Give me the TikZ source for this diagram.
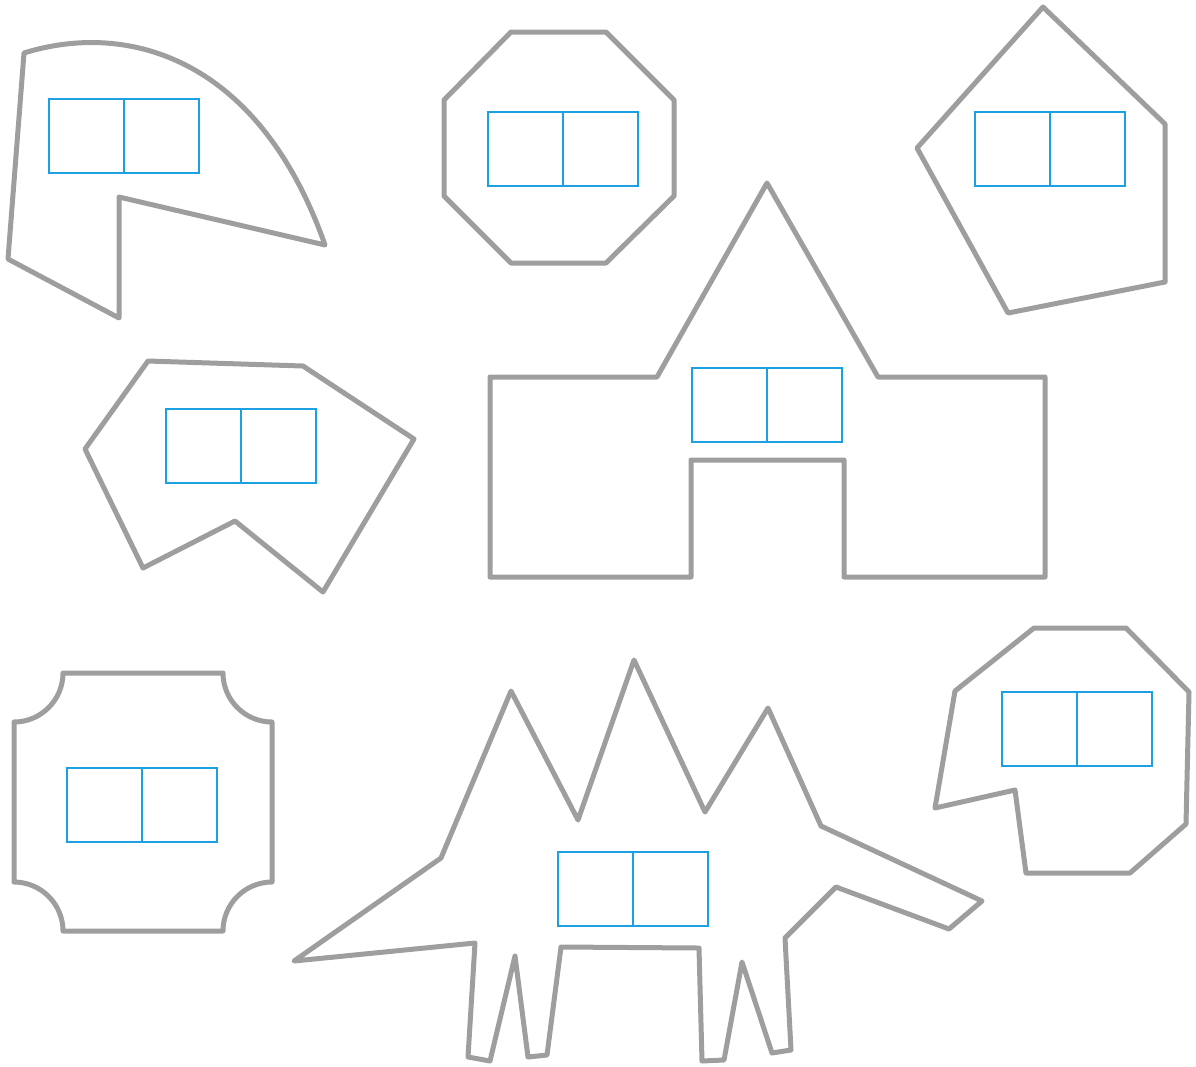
\documentclass[tikz,border=0pt]{standalone}
\definecolor{shapegray}{HTML}{9E9E9E}
\definecolor{boxblue}{HTML}{1BA1E2}
\tikzset{
  outline/.style={draw=shapegray, line width=5pt, line join=round},
  twobox/.pic={
    \draw[draw=boxblue, line width=1.5pt] (0,0) rectangle (150,74);
    \draw[draw=boxblue, line width=1.5pt] (75,0) -- (75,74);
  }
}
\begin{document}
\begin{tikzpicture}[x=1pt,y=-1pt]
\useasboundingbox (0,0) rectangle (1196,1066);
% top-left shape with curve
\draw[outline] (24,53) .. controls (130,20) and (260,60) .. (325,245) -- (119,197) -- (119,318) -- (8,259) -- cycle;
\pic at (49,99) {twobox};
% octagon
\draw[outline] (511,32) -- (606,32) -- (674,100) -- (674,196) -- (606,263) -- (511,263) -- (444,196) -- (444,100) -- cycle;
\pic at (488,112) {twobox};
% right pentagon
\draw[outline] (1043,7) -- (1165,124) -- (1165,282) -- (1008,313) -- (917,148) -- cycle;
\pic at (975,112) {twobox};
% middle-left polygon
\draw[outline] (148,361) -- (303,366) -- (414,439) -- (323,592) -- (235,521) -- (143,568) -- (85,449) -- cycle;
\pic at (166,409) {twobox};
% house
\draw[outline] (490,377) -- (657,377) -- (767,183) -- (878,377) -- (1045,377) -- (1045,577) -- (844,577) -- (844,460) -- (691,460) -- (691,577) -- (490,577) -- cycle;
\pic at (692,368) {twobox};
% bottom-left with concave corners
\draw[outline] (63,673) -- (223,673) .. controls (223,700) and (245,722) .. (272,722)
  -- (272,882) .. controls (245,882) and (223,904) .. (223,931)
  -- (63,931) .. controls (63,904) and (41,882) .. (14,882)
  -- (14,722) .. controls (41,722) and (63,700) .. (63,673) -- cycle;
\pic at (67,768) {twobox};
% bottom-middle creature
\draw[outline] (294,961) -- (441,858) -- (511,691) -- (578,820) -- (634,660) -- (705,812) -- (768,708) -- (821,826) -- (982,901) -- (949,929) -- (836,887) -- (785,938) -- (791,1050) -- (772,1053) -- (742,962) -- (724,1060) -- (702,1061) -- (699,948) -- (561,947) -- (547,1055) -- (528,1057) -- (515,956) -- (490,1061) -- (468,1057) -- (475,943) -- cycle;
\pic at (558,852) {twobox};
% bottom-right polygon
\draw[outline] (1034,628) -- (1126,628) -- (1189,692) -- (1186,824) -- (1130,873) -- (1026,873) -- (1015,790) -- (935,808) -- (955,691) -- cycle;
\pic at (1002,692) {twobox};
\end{tikzpicture}
\end{document}
